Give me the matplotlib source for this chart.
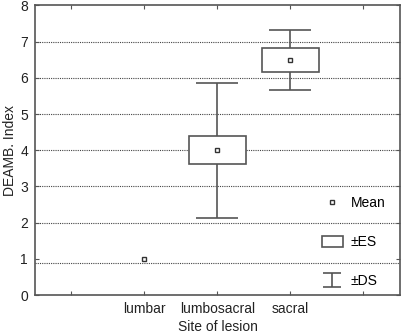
import numpy as np
import matplotlib
matplotlib.use('Agg')
import matplotlib.pyplot as plt
from matplotlib.lines import Line2D
from matplotlib.patches import Patch
from matplotlib.path import Path

plt.rcParams['font.family'] = ['Liberation Sans', 'DejaVu Sans']

sites = ['lumbar', 'lumbosacral', 'sacral']
means = [1.0, 4.0, 6.49]
se = [0.0, 0.39, 0.33]
sd = [0.0, 1.87, 0.83]
grid_y = [0.9, 2, 3, 4, 5, 6, 7]

col = '#555555'
fs = 10
fig = plt.figure(figsize=(4.02, 3.35), dpi=100)
ax = fig.add_axes([0.087, 0.119, 0.908, 0.865])

x = np.arange(len(sites))
m = np.array(means)
e = np.array(se)
d = np.array(sd)
has = e > 0

for g in grid_y:
    ax.axhline(g, color='#444444', lw=0.8, ls=(0, (1, 1)), zorder=0)

ax.errorbar(x[has], m[has], yerr=d[has], fmt='none', ecolor=col, elinewidth=1.2,
            capsize=15, capthick=1.2, zorder=1)
ax.bar(x[has], 2 * e[has], bottom=m[has] - e[has], width=0.79, facecolor='white',
       edgecolor=col, linewidth=1.2, zorder=2)
ax.plot(x, m, ls='none', marker='s', ms=3.5, mfc='white', mec='#333333', mew=1, zorder=3)

ax.set_xlim(-1.5, 3.5)
ax.set_ylim(0, 8)
ax.set_xticks(np.arange(-1, 4))
ax.set_xticklabels([''] + sites + [''], fontsize=fs)
ax.set_yticks(np.arange(0, 9))
ax.tick_params(axis='both', direction='in', length=3, color=col, top=True, right=True,
               labelsize=fs, labelcolor='#222222', pad=5)
for s in ax.spines.values():
    s.set_color(col)
    s.set_linewidth(1.2)
ax.set_xlabel('Site of lesion', fontsize=fs, color='#222222', labelpad=3)
ax.set_ylabel('DEAMB. Index', fontsize=fs, color='#222222', labelpad=2)

# legend icons
ds_path = Path([(-1, 0.75), (1, 0.75), (0, 0.75), (0, -0.75), (-1, -0.75), (1, -0.75)],
               [Path.MOVETO, Path.LINETO, Path.MOVETO, Path.LINETO, Path.MOVETO, Path.LINETO])
h_mean = Line2D([], [], ls='none', marker='s', ms=3.5, mfc='white', mec='#333333', mew=1)
h_es = Patch(facecolor='white', edgecolor=col, linewidth=1.2)
h_ds = Line2D([], [], ls='none', marker=ds_path, ms=13, mfc='none', mec=col, mew=1.2)
ax.legend([h_mean, h_es, h_ds], ['Mean', '±ES', '±DS'], loc='lower right',
          bbox_to_anchor=(0.98, 0.0), frameon=False, fontsize=fs, labelspacing=1.8,
          handlelength=1.5, handleheight=0.9, handletextpad=0.6, borderaxespad=0.1)

fig.savefig('out.png', dpi=100)
